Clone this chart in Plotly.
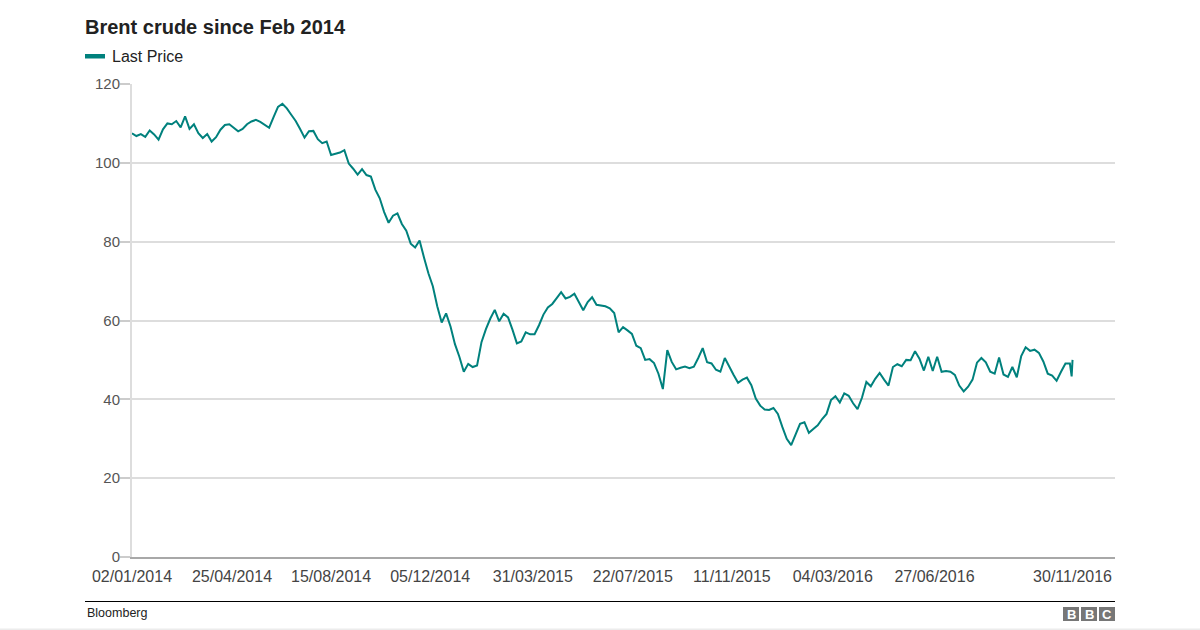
import pandas as pd
import plotly.graph_objects as go

# ---- data ----
series_name = "Last Price"
start_date = "2014-01-02"
step_days = 5
prices = [
    107.5, 106.8, 107.3, 106.6, 108.2, 107.2, 105.9, 108.5, 110.0, 109.8,
    110.6, 109.0, 111.8, 108.6, 109.8, 107.5, 106.3, 107.3, 105.4, 106.5,
    108.4, 109.6, 109.8, 109.0, 108.0, 108.6, 109.8, 110.5, 110.9, 110.4,
    109.6, 108.9, 111.6, 114.2, 115.0, 113.8, 112.2, 110.6, 108.6, 106.4,
    108.0, 108.1, 106.0, 105.0, 105.4, 102.0, 102.3, 102.6, 103.2, 99.8,
    98.5, 97.0, 98.4, 96.9, 96.5, 93.2, 91.0, 87.5, 84.8, 86.6,
    87.2, 84.5, 82.8, 79.5, 78.5, 80.3, 76.0, 72.0, 68.7, 63.6,
    59.5, 61.8, 58.5, 54.0, 50.8, 47.0, 49.0, 48.2, 48.6, 54.5,
    57.8, 60.5, 62.7, 59.8, 61.7, 60.8, 57.7, 54.2, 54.7, 57.0,
    56.5, 56.5, 58.8, 61.5, 63.3, 64.2, 65.7, 67.2, 65.6, 66.0,
    66.8, 64.5, 62.6, 64.7, 65.9, 64.0, 63.8, 63.6, 63.1, 61.9,
    57.0, 58.3, 57.5, 56.6, 53.6, 53.0, 50.0, 50.2, 49.2, 46.5,
    42.6, 52.5, 49.5, 47.6, 48.0, 48.3, 47.9, 48.3, 50.5, 53.0,
    49.4, 49.1, 47.5, 47.0, 50.5, 48.2, 46.2, 44.2, 45.0, 45.5,
    43.6, 40.2, 38.4, 37.4, 37.3, 37.8, 36.3, 33.0, 30.0, 28.4,
    31.2, 33.8, 34.2, 31.5, 32.5, 33.4, 35.0, 36.3, 39.8, 40.8,
    39.2, 41.5, 40.9, 39.0, 37.5, 40.4, 44.4, 43.3, 45.2, 46.7,
    45.0, 43.5, 48.2, 48.9, 48.4, 50.0, 49.9, 52.2, 50.3, 47.3,
    50.8, 47.2, 50.8, 47.0, 47.2, 47.0, 46.2, 43.5, 42.0, 43.2,
    45.0, 49.3, 50.5, 49.4, 47.0, 46.5, 50.6, 46.3, 45.7, 48.2,
    45.6, 51.0, 53.2, 52.3, 52.6, 51.8, 49.6, 46.5, 46.0, 44.7,
    47.0, 49.1, 49.1,
]
final_dates = ["2016-11-29", "2016-11-30"]
final_prices = [45.8, 50.0]

tick_dates = ["2014-01-02", "2014-04-25", "2014-08-15", "2014-12-05", "2015-03-31",
              "2015-07-22", "2015-11-11", "2016-03-04", "2016-06-27", "2016-11-30"]
tick_labels = ["02/01/2014", "25/04/2014", "15/08/2014", "05/12/2014", "31/03/2015",
               "22/07/2015", "11/11/2015", "04/03/2016", "27/06/2016", "30/11/2016"]
y_ticks = [0, 20, 40, 60, 80, 100, 120]

dates = list(pd.date_range(start_date, periods=len(prices), freq=f"{step_days}D")) + \
    [pd.Timestamp(d) for d in final_dates]
values = prices + final_prices

# ---- styling ----
TEAL = "#00817d"
FONT = "Liberation Sans, Arial, Helvetica, sans-serif"
W, H = 1200, 630
L, R, T, B = 132, 85, 84, 73
PW, PH = W - L - R, H - T - B


def px(xp):
    return (xp - L) / PW


def py(yp):
    return (H - B - yp) / PH


fig = go.Figure()
fig.add_trace(go.Scatter(
    x=dates, y=values, mode="lines", name=series_name,
    line=dict(color=TEAL, width=2), showlegend=False,
    hovertemplate="%{x|%d/%m/%Y}: %{y}<extra></extra>",
))

shapes = [
    # legend swatch
    dict(type="rect", xref="paper", yref="paper", x0=px(85), x1=px(105), y0=py(58.5), y1=py(54),
         fillcolor=TEAL, line=dict(width=0)),
    # footer rule
    dict(type="line", xref="paper", yref="paper", x0=px(85), x1=px(1115), y0=py(601.5), y1=py(601.5),
         line=dict(color="#000000", width=1)),
    # bottom strip
    dict(type="rect", xref="paper", yref="paper", x0=px(0), x1=px(1200), y0=py(630), y1=py(628.5),
         fillcolor="#ececec", line=dict(width=0)),
]
annotations = [
    dict(text=series_name, xref="paper", yref="paper", x=px(110), y=py(56), xanchor="left",
         yanchor="middle", showarrow=False, font=dict(family=FONT, size=16, color="#222222")),
    dict(text="Bloomberg", xref="paper", yref="paper", x=px(85), y=py(613), xanchor="left",
         yanchor="middle", showarrow=False, font=dict(family=FONT, size=12.5, color="#222222")),
]
for x0, letter in zip([1063, 1081, 1099], ["B", "B", "C"]):
    shapes.append(dict(type="rect", xref="paper", yref="paper", x0=px(x0), x1=px(x0 + 16),
                       y0=py(621), y1=py(607), fillcolor="#777777", line=dict(width=0)))
    annotations.append(dict(text=f"<b>{letter}</b>", xref="paper", yref="paper", x=px(x0 + 8),
                            y=py(614), xanchor="center", yanchor="middle", showarrow=False,
                            font=dict(family=FONT, size=13, color="#ffffff")))

fig.update_layout(
    width=W, height=H,
    margin=dict(l=L, r=R, t=T, b=B, pad=0),
    paper_bgcolor="#ffffff", plot_bgcolor="#ffffff",
    title=dict(text="<b>Brent crude since Feb 2014</b>", xref="container", yref="container",
               x=85 / W, y=1 - 27 / H, xanchor="left", yanchor="middle",
               font=dict(family=FONT, size=20, color="#222222")),
    font=dict(family=FONT, color="#444444"),
    shapes=shapes, annotations=annotations,
    showlegend=False,
    xaxis=dict(type="date", range=["2014-01-02", "2017-01-17"], tickvals=tick_dates,
               ticktext=tick_labels, showgrid=False, ticks="", showline=True,
               linecolor="#a8a8a8", linewidth=2, zeroline=False, ticklabelstandoff=4,
               tickfont=dict(family=FONT, size=16, color="#444444")),
    yaxis=dict(range=[0, 120], tickvals=y_ticks, showgrid=True, gridcolor="#dddddd",
               gridwidth=2, ticks="outside", ticklen=10, tickwidth=1.5, tickcolor="#cccccc",
               showline=True, linecolor="#dddddd", linewidth=2, zeroline=False,
               ticklabelstandoff=-3,
               tickfont=dict(family=FONT, size=15, color="#555555")),
)

fig.write_html("out.html", config={"displayModeBar": False},
               post_script="document.body.style.margin='0';")
